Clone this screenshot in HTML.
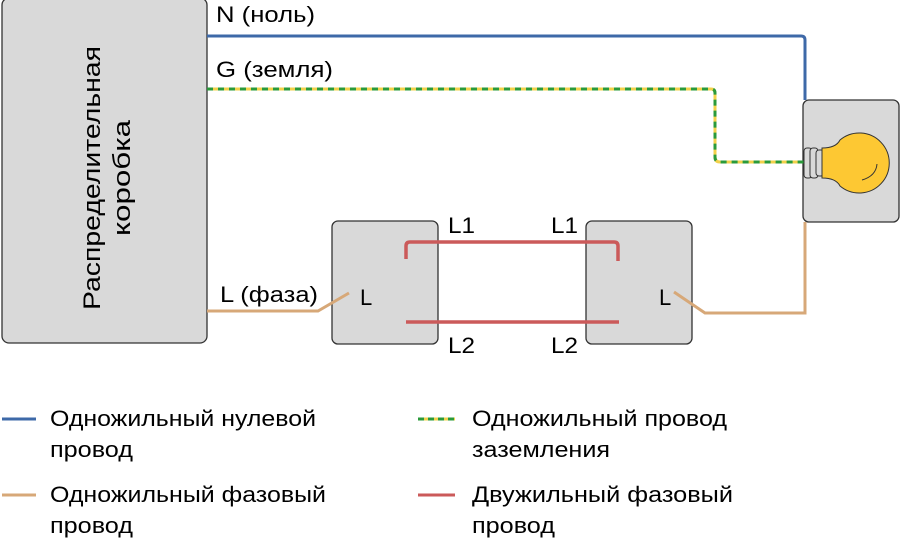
<!DOCTYPE html>
<html><head><meta charset="utf-8"><style>
body{margin:0;background:#fff;}
svg{display:block;font-family:"Liberation Sans",sans-serif;}
</style></head><body>
<svg width="900" height="541" viewBox="0 0 900 541">
<rect x="2" y="-2" width="205" height="345" rx="7" fill="#d9d9d9" stroke="#333" stroke-width="1.3"/>
<text transform="translate(100,178) rotate(-90)" text-anchor="middle" font-size="24" fill="#000"><tspan x="0" y="0" textLength="264" lengthAdjust="spacingAndGlyphs">Распределительная</tspan><tspan x="0" y="30" textLength="116" lengthAdjust="spacingAndGlyphs">коробка</tspan></text>
<rect x="332" y="221" width="106" height="123" rx="6" fill="#d9d9d9" stroke="#333" stroke-width="1.3"/>
<rect x="586" y="221" width="106" height="123" rx="6" fill="#d9d9d9" stroke="#333" stroke-width="1.3"/>
<rect x="803" y="100" width="96" height="122" rx="6" fill="#d9d9d9" stroke="#333" stroke-width="1.3"/>
<path d="M207 36 H801 Q805 36 805 40 V100" fill="none" stroke="#3e69a8" stroke-width="3"/>
<path d="M207 89 H711 Q715 89 715 93 V157 Q715 162 720 162 H806" fill="none" stroke="#f2d14b" stroke-width="3"/>
<path d="M207 89 H711 Q715 89 715 93 V157 Q715 162 720 162 H806" fill="none" stroke="#2a9a3a" stroke-width="3" stroke-dasharray="6 5"/>
<path d="M207 311 H318 L349 293" fill="none" stroke="#d7a878" stroke-width="3"/>
<path d="M674 292 L705 313 H805 V222" fill="none" stroke="#d7a878" stroke-width="3"/>
<path d="M406 259 V246 Q406 242 410 242 H614 Q618 242 618 246 V261" fill="none" stroke="#cb5a5a" stroke-width="3.5"/>
<path d="M406 322 H619" fill="none" stroke="#cb5a5a" stroke-width="3.5"/>
<g stroke="#333" stroke-width="1" fill="#d9d9d9">
<rect x="804" y="148" width="8" height="30" rx="3"/><rect x="810" y="148" width="8" height="30" rx="3"/><rect x="816" y="150" width="8" height="26" rx="3"/>
</g>
<path d="M822 148 Q836 148 840 140 A30 30 0 1 1 840 186 Q836 178 822 178 Z" fill="#fdc833" stroke="#333" stroke-width="1"/>
<path d="M862 180 Q876 176 877 164" fill="none" stroke="#333" stroke-width="1"/>
<g font-size="22" fill="#000" lengthAdjust="spacingAndGlyphs">
<text x="216" y="22" textLength="99" lengthAdjust="spacingAndGlyphs">N (ноль)</text>
<text x="216" y="77" textLength="117" lengthAdjust="spacingAndGlyphs">G (земля)</text>
<text x="220" y="302" textLength="98" lengthAdjust="spacingAndGlyphs">L (фаза)</text>
<text x="360" y="305">L</text>
<text x="659" y="305">L</text>
<text x="448" y="233" textLength="27" lengthAdjust="spacingAndGlyphs">L1</text>
<text x="551" y="233" textLength="27" lengthAdjust="spacingAndGlyphs">L1</text>
<text x="448" y="353" textLength="27" lengthAdjust="spacingAndGlyphs">L2</text>
<text x="551" y="353" textLength="27" lengthAdjust="spacingAndGlyphs">L2</text>
<text x="50" y="426" textLength="266" lengthAdjust="spacingAndGlyphs">Одножильный нулевой</text>
<text x="50" y="457" textLength="83" lengthAdjust="spacingAndGlyphs">провод</text>
<text x="50" y="502" textLength="276" lengthAdjust="spacingAndGlyphs">Одножильный фазовый</text>
<text x="50" y="533" textLength="83" lengthAdjust="spacingAndGlyphs">провод</text>
<text x="472" y="426" textLength="255" lengthAdjust="spacingAndGlyphs">Одножильный провод</text>
<text x="472" y="457" textLength="138" lengthAdjust="spacingAndGlyphs">заземления</text>
<text x="472" y="502" textLength="261" lengthAdjust="spacingAndGlyphs">Двужильный фазовый</text>
<text x="472" y="533" textLength="83" lengthAdjust="spacingAndGlyphs">провод</text>
</g>
<line x1="2" y1="419" x2="36" y2="419" stroke="#3e69a8" stroke-width="3"/>
<line x1="2" y1="495" x2="36" y2="495" stroke="#d7a878" stroke-width="3"/>
<line x1="418" y1="419" x2="455" y2="419" stroke="#f2d14b" stroke-width="3"/>
<line x1="418" y1="419" x2="455" y2="419" stroke="#2a9a3a" stroke-width="3" stroke-dasharray="6 4"/>
<line x1="418" y1="495" x2="455" y2="495" stroke="#cb5a5a" stroke-width="3"/>
</svg>
</body></html>
